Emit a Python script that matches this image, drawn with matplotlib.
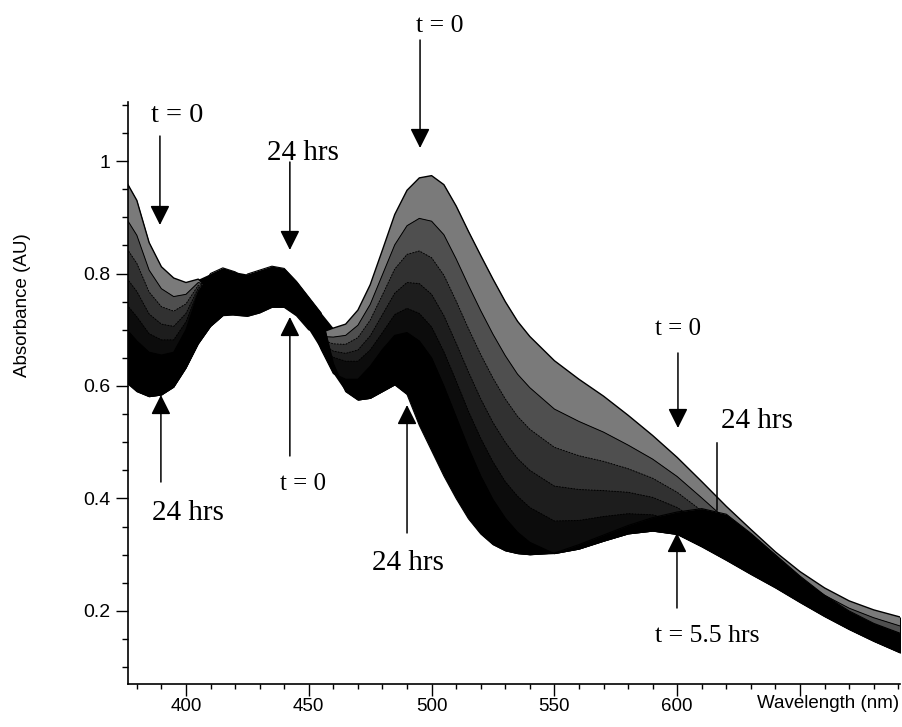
import numpy as np
import matplotlib
matplotlib.use("Agg")
import matplotlib.pyplot as plt
from matplotlib.ticker import FixedLocator, MultipleLocator

# ---------------- data ----------------
wavelength_nm = [376, 380, 385, 390, 395, 400, 405, 410, 415, 420, 425, 430, 435, 440,
                 445, 450, 455, 460, 465, 470, 475, 480, 485, 490, 495, 500, 505, 510,
                 515, 520, 525, 530, 535, 540, 550, 560, 570, 580, 590, 600, 610, 620,
                 630, 640, 650, 660, 670, 680, 691]

abs_t0h = [0.961, 0.930, 0.855, 0.812, 0.792, 0.784, 0.790, 0.770, 0.735, 0.726, 0.724, 0.730, 0.740, 0.740,
           0.725, 0.700, 0.695, 0.703, 0.710, 0.735, 0.780, 0.842, 0.905, 0.948, 0.970, 0.974, 0.958, 0.920,
           0.875, 0.832, 0.790, 0.750, 0.715, 0.688, 0.645, 0.612, 0.582, 0.548, 0.512, 0.473, 0.430, 0.386,
           0.345, 0.305, 0.270, 0.241, 0.218, 0.202, 0.189]

abs_t0_5h = [0.896, 0.868, 0.806, 0.773, 0.759, 0.763, 0.784, 0.778, 0.754, 0.745, 0.741, 0.744, 0.753, 0.751,
             0.733, 0.704, 0.688, 0.687, 0.690, 0.708, 0.745, 0.798, 0.851, 0.885, 0.898, 0.893, 0.869, 0.826,
             0.779, 0.734, 0.692, 0.654, 0.621, 0.597, 0.559, 0.537, 0.518, 0.495, 0.470, 0.439, 0.401, 0.362,
             0.325, 0.289, 0.256, 0.228, 0.205, 0.188, 0.173]

abs_t1h = [0.844, 0.818, 0.767, 0.741, 0.733, 0.746, 0.779, 0.784, 0.769, 0.761, 0.754, 0.755, 0.763, 0.760,
           0.739, 0.707, 0.682, 0.675, 0.674, 0.686, 0.717, 0.762, 0.808, 0.834, 0.840, 0.828, 0.797, 0.751,
           0.702, 0.656, 0.614, 0.577, 0.546, 0.523, 0.491, 0.476, 0.466, 0.453, 0.436, 0.411, 0.378, 0.343,
           0.309, 0.276, 0.245, 0.218, 0.195, 0.177, 0.160]

abs_t2h = [0.791, 0.768, 0.728, 0.710, 0.706, 0.729, 0.774, 0.790, 0.784, 0.776, 0.767, 0.766, 0.773, 0.769,
           0.745, 0.710, 0.676, 0.662, 0.658, 0.664, 0.689, 0.727, 0.765, 0.784, 0.782, 0.763, 0.725, 0.676,
           0.625, 0.577, 0.535, 0.500, 0.471, 0.450, 0.422, 0.416, 0.414, 0.411, 0.402, 0.384, 0.355, 0.324,
           0.293, 0.263, 0.234, 0.208, 0.185, 0.166, 0.147]

abs_t3_5h = [0.744, 0.723, 0.693, 0.682, 0.682, 0.714, 0.769, 0.795, 0.797, 0.790, 0.779, 0.776, 0.782, 0.777,
             0.750, 0.713, 0.670, 0.651, 0.644, 0.644, 0.664, 0.695, 0.727, 0.738, 0.729, 0.705, 0.661, 0.609,
             0.555, 0.507, 0.465, 0.430, 0.404, 0.384, 0.360, 0.361, 0.368, 0.373, 0.371, 0.359, 0.334, 0.306,
             0.279, 0.252, 0.224, 0.198, 0.175, 0.156, 0.136]

abs_t5_5h = [0.700, 0.680, 0.660, 0.655, 0.660, 0.700, 0.765, 0.800, 0.810, 0.803, 0.790, 0.785, 0.790, 0.785,
             0.755, 0.716, 0.665, 0.622, 0.612, 0.612, 0.635, 0.665, 0.690, 0.695, 0.680, 0.650, 0.600, 0.545,
             0.490, 0.440, 0.398, 0.365, 0.340, 0.322, 0.302, 0.310, 0.324, 0.337, 0.342, 0.336, 0.314, 0.290,
             0.265, 0.241, 0.215, 0.190, 0.167, 0.146, 0.125]

abs_t24h = [0.605, 0.590, 0.581, 0.584, 0.598, 0.632, 0.675, 0.706, 0.725, 0.765, 0.799, 0.806, 0.813, 0.809,
            0.786, 0.758, 0.730, 0.640, 0.590, 0.575, 0.578, 0.590, 0.602, 0.585, 0.530, 0.485, 0.440, 0.400,
            0.364, 0.337, 0.318, 0.307, 0.302, 0.300, 0.303, 0.318, 0.335, 0.352, 0.366, 0.376, 0.382, 0.372,
            0.338, 0.300, 0.262, 0.228, 0.200, 0.178, 0.160]

x_ticks = [400, 450, 500, 550, 600, 650]
x_tick_labels = ["400", "450", "500", "550", "600", ""]
y_ticks = [0.2, 0.4, 0.6, 0.8, 1.0]
y_tick_labels = ["0.2", "0.4", "0.6", "0.8", "1"]

# ---------------- figure ----------------
SERIF = "Liberation Serif"
SANS = "Liberation Sans"

fig = plt.figure(figsize=(9.03, 7.27), dpi=100)
ax = fig.add_axes([128 / 903, 1 - 684 / 727, (900 - 128) / 903, (684 - 102) / 727])

wl = np.array(wavelength_nm)
early = [np.array(abs_t0h), np.array(abs_t0_5h), np.array(abs_t1h),
         np.array(abs_t2h), np.array(abs_t3_5h), np.array(abs_t5_5h)]
late = np.array(abs_t24h)
stack = np.vstack(early + [late])
lower_env = stack.min(axis=0)
upper_env = stack.max(axis=0)

# dense body of the spectral family
ax.fill_between(wl, lower_env, upper_env, color="black", lw=0, zorder=1)
# sparser early-time spectra (lighter where curves are far apart)
band_colors = ["#7a7a7a", "#4f4f4f", "#313131", "#1d1d1d", "#0c0c0c"]
for upper, lower, c in zip(early[:-1], early[1:], band_colors):
    ax.fill_between(wl, lower, upper, where=upper >= lower, interpolate=True,
                    color=c, lw=0, zorder=2)
# late (5.5 h -> 24 h) spectra are densely packed
ax.fill_between(wl, early[-1], late, color="black", lw=0, zorder=3)

ax.plot(wl, early[0], color="black", lw=1.0, zorder=5)
ax.plot(wl, early[1], color="black", lw=0.7, zorder=5)
for s in early[2:5]:
    ax.plot(wl, s, color="black", lw=0.7, ls=(0, (1.5, 1.5)), zorder=5)
ax.plot(wl, early[-1], color="black", lw=0.8, zorder=5)
ax.plot(wl, late, color="black", lw=0.8, zorder=5)

# ---------------- axes styling ----------------
ax.set_xlim(376.4, 690.7)
ax.set_ylim(0.0702, 1.1049)
for side in ("top", "right"):
    ax.spines[side].set_visible(False)
for side in ("left", "bottom"):
    ax.spines[side].set_linewidth(1.2)

ax.xaxis.set_major_locator(FixedLocator(x_ticks))
ax.set_xticklabels(x_tick_labels)
ax.xaxis.set_minor_locator(MultipleLocator(10))
ax.yaxis.set_major_locator(FixedLocator(y_ticks))
ax.set_yticklabels(y_tick_labels)
ax.yaxis.set_minor_locator(MultipleLocator(0.05))

ax.tick_params(axis="x", which="major", length=8.5, width=1.0, pad=1.5, labelsize=13.5)
ax.tick_params(axis="x", which="minor", length=3.6, width=1.0)
ax.tick_params(axis="y", which="major", length=9.0, width=1.0, pad=3.5, labelsize=14)
ax.tick_params(axis="y", which="minor", length=4.3, width=1.0)
for lab in ax.get_xticklabels() + ax.get_yticklabels():
    lab.set_fontfamily(SANS)

fig.text(23 / 903, 1 - 305 / 727, "Absorbance (AU)", rotation=90, ha="center",
         va="center", fontsize=13.5, family=SANS)
fig.text(828 / 903, 1 - 703 / 727, "Wavelength (nm)", ha="center", va="center",
         fontsize=13.5, family=SANS)

# ---------------- annotations ----------------
arrow_style = dict(arrowstyle="-|>,head_length=0.6,head_width=0.3", mutation_scale=20,
                   lw=1.1, color="black", shrinkA=0, shrinkB=0)

arrows = [  # (tail_x, tail_y, tip_x, tip_y)
    (389.4, 1.0444, 389.4, 0.8862),
    (442.3, 0.9982, 442.3, 0.8418),
    (495.3, 1.2151, 495.3, 1.0231),
    (389.8, 0.4293, 389.8, 0.5840),
    (442.3, 0.4756, 442.3, 0.7227),
    (490.0, 0.3387, 490.0, 0.5662),
    (600.3, 0.6587, 600.3, 0.5253),
    (599.9, 0.2053, 599.9, 0.3387),
]
for x0, y0, x1, y1 in arrows:
    ax.annotate("", xy=(x1, y1), xytext=(x0, y0), arrowprops=arrow_style,
                annotation_clip=False, zorder=6)
ax.plot([616.2, 616.2], [0.4987, 0.3796], color="black", lw=1.1, zorder=6, clip_on=False)

labels = [  # (text, x, baseline y, fontsize)
    ("t = 0", 396.3, 1.0693, 20.5),
    ("24 hrs", 447.6, 1.0018, 21),
    ("t = 0", 503.4, 1.2293, 18.5),
    ("24 hrs", 400.8, 0.3618, 21),
    ("t = 0", 447.8, 0.4151, 18),
    ("24 hrs", 490.4, 0.2729, 21),
    ("t = 0", 600.3, 0.6907, 18),
    ("24 hrs", 632.5, 0.5253, 21),
    ("t = 5.5 hrs", 612.1, 0.1449, 18.5),
]
for txt, x, y, fs in labels:
    ax.text(x, y, txt, ha="center", va="baseline", fontsize=fs, family=SERIF,
            clip_on=False, zorder=7)

fig.savefig("out.png", dpi=100, facecolor="white")
